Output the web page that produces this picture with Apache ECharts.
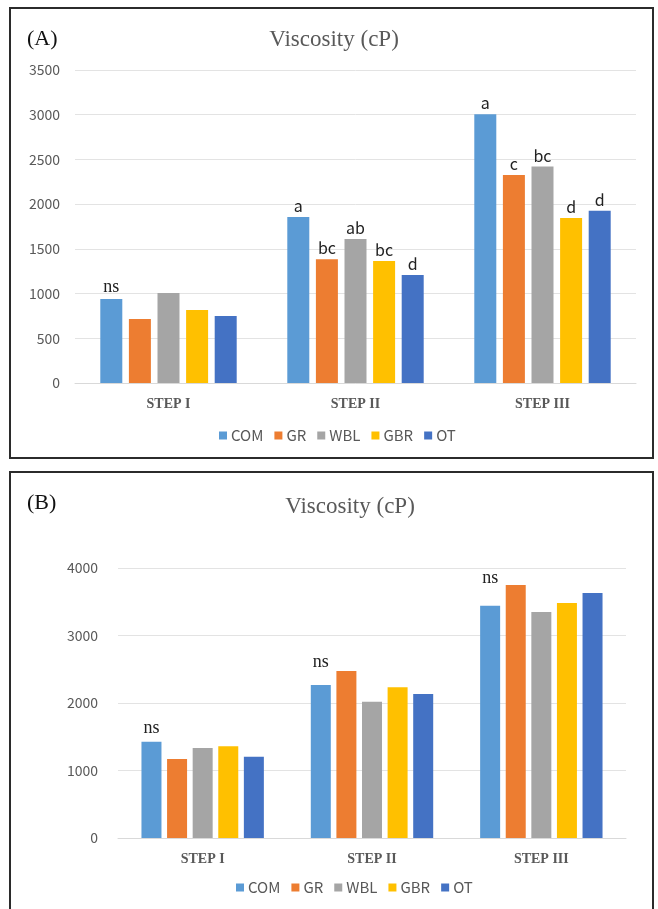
<!DOCTYPE html>
<html>
<head>
<meta charset="utf-8">
<script src="https://cdn.jsdelivr.net/npm/echarts@6/dist/echarts.min.js"></script>
<style>
html,body{margin:0;padding:0;background:#fff;}
#c{width:658px;height:909px;}
</style>
</head>
<body>
<div id="c"></div>
<script>
// ---- data ----
const categories = ['STEP I', 'STEP II', 'STEP III'];
const seriesNames = ['COM', 'GR', 'WBL', 'GBR', 'OT'];

// Panel A values (cP)
const A_COM = [940, 1857, 3005];
const A_GR  = [716, 1385, 2325];
const A_WBL = [1005, 1610, 2420];
const A_GBR = [815, 1365, 1845];
const A_OT  = [748, 1208, 1925];
// Panel A significance letters
const A_COM_lbl = ['ns', 'a', 'a'];
const A_GR_lbl  = ['', 'bc', 'c'];
const A_WBL_lbl = ['', 'ab', 'bc'];
const A_GBR_lbl = ['', 'bc', 'd'];
const A_OT_lbl  = ['', 'd', 'd'];

// Panel B values (cP)
const B_COM = [1425, 2268, 3440];
const B_GR  = [1170, 2474, 3748];
const B_WBL = [1335, 2017, 3350];
const B_GBR = [1360, 2235, 3482];
const B_OT  = [1203, 2133, 3630];
const B_COM_lbl = ['ns', 'ns', 'ns'];

const yTicksA = {min: 0, max: 3500, interval: 500};
const yTicksB = {min: 0, max: 4000, interval: 1000};

// ---- styles ----
const colors = ['#5B9BD5', '#ED7D31', '#A5A5A5', '#FFC000', '#4472C4'];
const nsLiftB = [2, 11, 16]; // extra lift of "ns" labels in panel B (px)

const A_vals = [A_COM, A_GR, A_WBL, A_GBR, A_OT];
const A_lbls = [A_COM_lbl, A_GR_lbl, A_WBL_lbl, A_GBR_lbl, A_OT_lbl];
const B_vals = [B_COM, B_GR, B_WBL, B_GBR, B_OT];

const gray = '#595959';
const serif = '"Liberation Serif","DejaVu Serif",serif';
const sans = '"Noto Sans CJK KR","Noto Sans",sans-serif';

const series = [];
seriesNames.forEach((name, si) => {
  series.push({
    type: 'bar', name: name, xAxisIndex: 0, yAxisIndex: 0,
    barWidth: 22, barGap: '30%',
    itemStyle: {color: colors[si]},
    data: A_vals[si].map((v, ci) => ({value: v, label: {formatter: A_lbls[si][ci],
      fontFamily: A_lbls[si][ci] === 'ns' ? serif : sans,
      fontSize: A_lbls[si][ci] === 'ns' ? 18 : 16}})),
    label: {show: true, position: 'top', distance: 3, color: '#222'}
  });
});
seriesNames.forEach((name, si) => {
  series.push({
    type: 'bar', name: name, xAxisIndex: 1, yAxisIndex: 1,
    barWidth: 20, barGap: '28%',
    itemStyle: {color: colors[si]},
    data: B_vals[si].map((v, ci) => ({value: v,
      label: si === 0 ? {show: true, formatter: B_COM_lbl[ci], offset: [0, -nsLiftB[ci]]} : {show: false}})),
    label: {show: false, position: 'top', distance: 3, color: '#222',
      fontFamily: serif, fontSize: 18}
  });
});

const axisLabelY = {color: gray, fontSize: 14, fontFamily: sans, formatter: v => String(v)};
const axisLabelX = {color: gray, fontSize: 14, fontFamily: serif, fontWeight: 'bold'};
const gridLine = {lineStyle: {color: '#e3e3e3', width: 1}};

const option = {
  animation: false,
  backgroundColor: '#fff',
  color: colors,
  graphic: [
    {type: 'rect', shape: {x: 10, y: 8, width: 643, height: 450}, style: {fill: 'none', stroke: '#2b2b2b', lineWidth: 2}},
    {type: 'rect', shape: {x: 10, y: 472, width: 643, height: 445}, style: {fill: 'none', stroke: '#2b2b2b', lineWidth: 2}},
    {type: 'text', left: 27, top: 28, style: {text: '(A)', font: '22px ' + serif, fill: '#111'}},
    {type: 'text', left: 27, top: 492, style: {text: '(B)', font: '22px ' + serif, fill: '#111'}},
    {type: 'text', x: 334, y: 40, style: {text: 'Viscosity (cP)', font: '23px ' + serif, fill: gray, align: 'center', verticalAlign: 'middle'}},
    {type: 'text', x: 350, y: 507, style: {text: 'Viscosity (cP)', font: '23px ' + serif, fill: gray, align: 'center', verticalAlign: 'middle'}}
  ],
  legend: [
    {left: 214, top: 423, data: seriesNames, icon: 'rect', itemWidth: 8, itemHeight: 8, itemGap: 11,
     textStyle: {color: gray, fontSize: 15, fontFamily: sans, padding: [0, 0, 0, -1]}, selectedMode: false},
    {left: 231, top: 875, data: seriesNames, icon: 'rect', itemWidth: 8, itemHeight: 8, itemGap: 11,
     textStyle: {color: gray, fontSize: 15, fontFamily: sans, padding: [0, 0, 0, -1]}, selectedMode: false}
  ],
  grid: [
    {left: 75, right: 22, top: 70, bottom: 909 - 383},
    {left: 118, right: 32, top: 568, bottom: 909 - 838}
  ],
  xAxis: [
    {type: 'category', gridIndex: 0, data: categories, axisTick: {show: false},
     axisLine: {lineStyle: {color: '#d9d9d9'}}, axisLabel: Object.assign({margin: 14}, axisLabelX)},
    {type: 'category', gridIndex: 1, data: categories, axisTick: {show: false},
     axisLine: {lineStyle: {color: '#d9d9d9'}}, axisLabel: Object.assign({margin: 14}, axisLabelX)}
  ],
  yAxis: [
    {type: 'value', gridIndex: 0, min: yTicksA.min, max: yTicksA.max, interval: yTicksA.interval,
     axisLine: {show: false}, axisTick: {show: false}, splitLine: gridLine,
     axisLabel: Object.assign({margin: 15}, axisLabelY)},
    {type: 'value', gridIndex: 1, min: yTicksB.min, max: yTicksB.max, interval: yTicksB.interval,
     axisLine: {show: false}, axisTick: {show: false}, splitLine: gridLine,
     axisLabel: Object.assign({margin: 20}, axisLabelY)}
  ],
  series: series
};

const chart = echarts.init(document.getElementById('c'), null, {renderer: 'canvas'});
chart.setOption(option);
</script>
</body>
</html>
